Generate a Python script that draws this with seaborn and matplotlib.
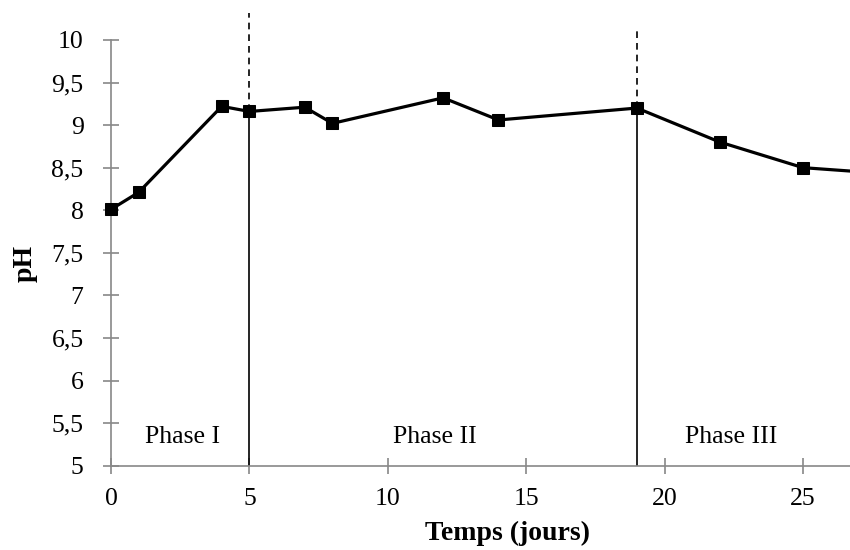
import matplotlib
matplotlib.use("Agg")
import matplotlib.pyplot as plt
import seaborn as sns
import pandas as pd

# temps (jours) et pH mesurés
jours = [0, 1, 4, 5, 7, 8, 12, 14, 19, 22, 25, 28]
ph = [8.01, 8.21, 9.22, 9.16, 9.21, 9.02, 9.32, 9.06, 9.20, 8.80, 8.50, 8.43]

# limites de phases
limites = [5, 19]
haut_pointille = [10.32, 10.14]
phases = ["Phase I", "Phase II", "Phase III"]
pos_phases = [2.6, 11.7, 22.4]

y_ticks = [5, 5.5, 6, 6.5, 7, 7.5, 8, 8.5, 9, 9.5, 10]
x_ticks = [0, 5, 10, 15, 20, 25]

sns.set_style("white")
plt.rcParams["font.family"] = ["Liberation Serif", "DejaVu Serif"]
plt.rcParams["text.color"] = "black"
plt.rcParams["axes.labelcolor"] = "black"

df = pd.DataFrame({"Temps": jours, "pH": ph})

fig = plt.figure(figsize=(8.5, 5.5), dpi=100)
ax = fig.add_axes([0.1306, 0.1533, 0.8694, 0.7741])

sns.lineplot(data=df, x="Temps", y="pH", ax=ax, color="black", linewidth=2.3,
             marker="s", markersize=9, markeredgecolor="black", zorder=3)
for ln in ax.lines:
    ln.set_clip_on(False)  # marqueur à t=0 entier

for lim, h in zip(limites, haut_pointille):
    y_pt = ph[jours.index(lim)]
    ax.plot([lim, lim], [5, y_pt], color="black", linewidth=1.2, zorder=2)
    ax.plot([lim, lim], [y_pt, h], color="black", linewidth=1.2,
            linestyle=(0, (4, 3)), clip_on=False, zorder=2)

for nom, xp in zip(phases, pos_phases):
    ax.text(xp, 5.34, nom, ha="center", va="center", fontsize=18.5)

ax.set_xlim(0, 26.7)
ax.set_ylim(5, 10)
ax.set_xticks(x_ticks)
ax.set_yticks(y_ticks)
ax.set_yticklabels([f"{v:g}".replace(".", ",") for v in y_ticks])
ax.tick_params(axis="both", direction="inout", length=11.5, width=1.2,
               color="#888888", labelcolor="black", labelsize=18.5,
               bottom=True, left=True)
ax.tick_params(axis="x", pad=10)
ax.tick_params(axis="y", pad=14)

for s in ["top", "right"]:
    ax.spines[s].set_visible(False)
for s in ["left", "bottom"]:
    ax.spines[s].set_color("#888888")
    ax.spines[s].set_linewidth(1.2)

ax.set_xlabel("Temps (jours)", fontsize=20, fontweight="bold")
ax.xaxis.set_label_coords(0.537, -0.13)
ax.set_ylabel("pH", fontsize=20, fontweight="bold")
ax.yaxis.set_label_coords(-0.099, 0.474)

fig.savefig("out.png", dpi=100)
